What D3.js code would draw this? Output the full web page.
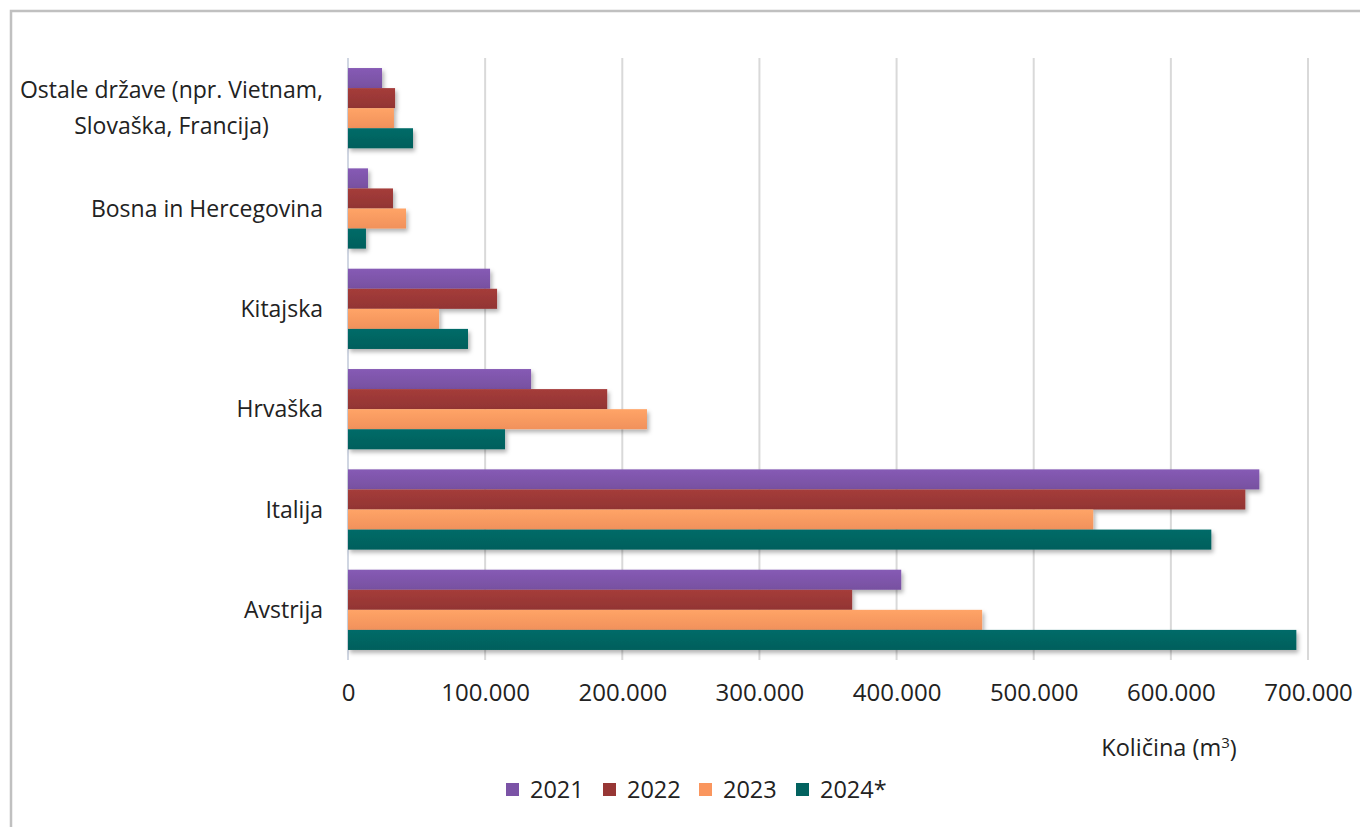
<!DOCTYPE html>
<html><head><meta charset="utf-8">
<script src="https://cdn.jsdelivr.net/npm/d3@7"></script>
<style>body{margin:0;background:#fff;}svg{display:block;font-family:"Open Sans",sans-serif;}</style>
</head><body>
<svg id="c" width="1360" height="827"></svg>
<script>
const categories = ["Ostale države (npr. Vietnam, Slovaška, Francija)", "Bosna in Hercegovina", "Kitajska", "Hrvaška", "Italija", "Avstrija"];
const categoryLines = [["Ostale države (npr. Vietnam,", "Slovaška, Francija)"], ["Bosna in Hercegovina"], ["Kitajska"], ["Hrvaška"], ["Italija"], ["Avstrija"]];
const seriesNames = ["2021", "2022", "2023", "2024*"];
const v2021 = [24800, 14600, 103600, 133500, 664500, 403400];
const v2022 = [34300, 32800, 108700, 189000, 654300, 367600];
const v2023 = [33500, 42300, 66400, 218000, 543400, 462400];
const v2024 = [47400, 13100, 87500, 114500, 629500, 691500];
const seriesValues = [v2021, v2022, v2023, v2024];
const xTicks = [0, 100000, 200000, 300000, 400000, 500000, 600000, 700000];
const colors = ["#7b53a6", "#973735", "#fa965e", "#02625f"];

const svg = d3.select("#c");
const defs = svg.append("defs");
const f = defs.append("filter").attr("id","sh").attr("x","-5%").attr("y","-30%").attr("width","115%").attr("height","180%");
f.append("feDropShadow").attr("dx",2).attr("dy",3).attr("stdDeviation",2).attr("flood-color","#000").attr("flood-opacity",0.3);
colors.forEach((c,i)=>{
  const g = defs.append("linearGradient").attr("id","g"+i).attr("x1",0).attr("y1",0).attr("x2",0).attr("y2",1);
  g.append("stop").attr("offset","0%").attr("stop-color",d3.color(c).brighter(0.25));
  g.append("stop").attr("offset","100%").attr("stop-color",d3.color(c).darker(0.1));
});

// outer border
svg.append("path").attr("d","M11,827 V11 H1360").attr("fill","none").attr("stroke","#c0c0c0").attr("stroke-width",2.5);

const x = d3.scaleLinear().domain([0,700000]).range([348,1308]);
const y = d3.scaleBand().domain(categories).range([58,660]).paddingInner(0.2).paddingOuter(0.1);
const yInner = d3.scaleBand().domain(seriesNames).range([0,y.bandwidth()]);

// gridlines
svg.append("g").selectAll("line").data(xTicks.slice(1)).join("line")
  .attr("x1",d=>x(d)).attr("x2",d=>x(d)).attr("y1",58).attr("y2",660)
  .attr("stroke","#d9d9d9").attr("stroke-width",2);
svg.append("line").attr("x1",x(0)).attr("x2",x(0)).attr("y1",58).attr("y2",660).attr("stroke","#d0d6e2").attr("stroke-width",2);

// bars
seriesNames.forEach((s,si)=>{
  svg.append("g").attr("filter","url(#sh)").selectAll("rect").data(seriesValues[si]).join("rect")
    .attr("x",x(0)).attr("y",(d,i)=>y(categories[i])+yInner(s))
    .attr("width",d=>x(d)-x(0)).attr("height",yInner.bandwidth())
    .attr("fill","url(#g"+si+")");
});

// x axis labels
const xa = d3.axisBottom(x).tickValues(xTicks).tickSize(0).tickPadding(0)
  .tickFormat(d=>d===0?"0":d3.format(",")(d).replace(/,/g,"."));
const gx = svg.append("g").attr("transform","translate(0,684)").call(xa);
gx.select(".domain").remove();
gx.selectAll("text").attr("font-size",24).attr("fill","#222").attr("font-family","Open Sans");

// category labels (right-aligned block; multi-line centred within block)
categories.forEach((c,i)=>{
  const lines = categoryLines[i];
  const cy = y(c)+y.bandwidth()/2;
  const lh = 36;
  const g = svg.append("g");
  const texts = lines.map((ln,j)=>g.append("text").attr("y",cy+(j-(lines.length-1)/2)*lh).attr("dy","0.35em")
      .attr("text-anchor","middle").attr("font-size",23).attr("fill","#222").text(ln));
  const maxW = d3.max(texts, t=>t.node().getComputedTextLength());
  texts.forEach(t=>t.attr("x",323-maxW/2));
});

// axis title
const t = svg.append("text").attr("x",1169).attr("y",748).attr("dy","0.35em").attr("text-anchor","middle").attr("font-size",23.5).attr("fill","#222");
t.append("tspan").text("Količina (m");
t.append("tspan").attr("font-size",15).attr("dy","-0.55em").text("3");
t.append("tspan").attr("dy","0.4em").text(")");

// legend
const legX = [506, 603, 699, 796];
seriesNames.forEach((s,i)=>{
  svg.append("rect").attr("x",legX[i]).attr("y",783).attr("width",13).attr("height",13).attr("fill",colors[i]);
  svg.append("text").attr("x",legX[i]+24).attr("y",790).attr("dy","0.35em").attr("font-size",23.5).attr("fill","#222").text(s);
});
</script>
</body></html>
